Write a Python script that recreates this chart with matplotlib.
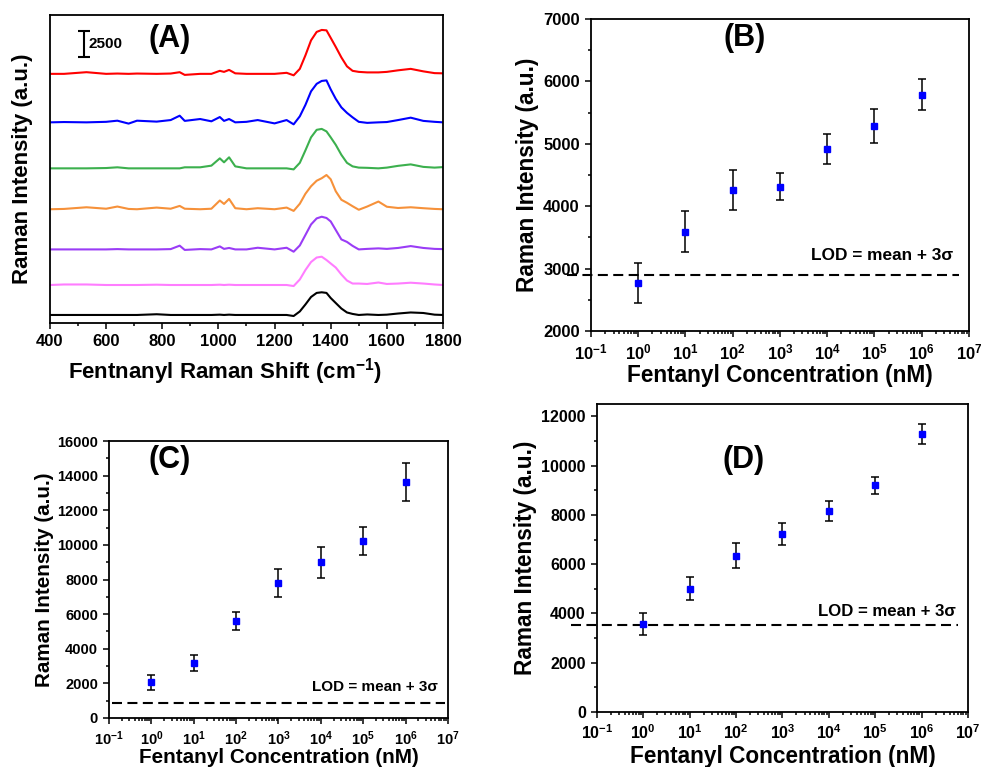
import numpy as np
import matplotlib
matplotlib.use("Agg")
import matplotlib.pyplot as plt
from matplotlib.ticker import MultipleLocator, LogLocator, FuncFormatter, NullFormatter

plt.rcParams['font.family'] = ['Liberation Sans', 'DejaVu Sans']
plt.rcParams['font.weight'] = 'bold'
plt.rcParams['axes.labelweight'] = 'bold'
plt.rcParams['mathtext.default'] = 'regular'

# =============================================================
# DATOS (A): espectros Raman, intensidad sobre su línea base
# =============================================================
shift = [400, 450, 530, 600, 640, 680, 710, 780, 830, 862, 880, 935, 975, 1005,
         1020, 1038, 1060, 1100, 1140, 1200, 1243, 1268, 1290, 1310, 1330, 1350,
         1368, 1385, 1400, 1418, 1438, 1458, 1478, 1500, 1530, 1570, 1600, 1640,
         1685, 1730, 1770, 1800]

spec_red = [0, 0, 160, 0, 30, 0, 30, 0, 30, 160, -100, 0, 0, 290, 190, 380, 50, 0, 0,
            0, 100, -140, 480, 1780, 3220, 4030, 4220, 4180, 3460, 2590, 1580, 720,
            290, 190, 140, 140, 190, 340, 480, 240, 70, 50]
spec_blue = [0, 30, 0, 50, 160, -120, 160, 70, 220, 640, 140, 320, 100, 510, 140, 320,
             0, 50, 220, -100, 220, -190, 580, 1680, 2980, 3700, 3980, 4030, 3170,
             2260, 1440, 910, 480, 50, -50, 0, 30, 220, 450, 140, 50, 0]
spec_green = [0, 0, 0, 30, 100, 0, 0, 0, 0, 0, 100, 100, 260, 960, 580, 1060, 190, 0,
              0, 0, 0, -100, 530, 1730, 2980, 3700, 3790, 3550, 2980, 2260, 1300, 530,
              190, 70, 50, 0, 70, 240, 380, 140, 70, 120]
spec_orange = [0, 30, 190, 50, 260, 30, 0, 160, 50, 320, 50, 0, 50, 840, 510, 990, 100,
               0, 100, 0, 160, -160, 530, 1490, 2210, 2740, 2980, 3290, 2880, 1730,
               910, 620, 290, -50, 260, 740, 240, 120, 190, 100, 30, 0]
spec_purple = [0, 0, 0, 0, 30, 0, 0, 0, 30, 360, -50, 30, 0, 290, 50, 140, 0, 0, 160, 0,
               160, -220, 380, 1390, 2400, 2980, 3140, 3020, 2690, 1870, 960, 720, 340,
               0, 50, 100, 50, 140, 320, 140, 50, 30]
spec_pink = [0, 50, 50, 0, 0, 0, 0, 30, 0, 0, 0, 0, 0, 30, 0, 30, 0, 0, 0, 0, 0, -100,
             530, 1440, 2210, 2640, 2720, 2400, 2070, 1680, 1010, 430, 140, 140, 100,
             240, 100, 140, 220, 140, 50, 0]
spec_black = [0, 0, 0, 0, 0, 0, 0, 70, 0, 0, 0, 0, 0, 30, 0, 30, 0, 0, 0, 0, 0, -100,
              340, 1010, 1730, 2120, 2180, 2120, 1630, 1150, 620, 240, 100, 0, 50, 0, 30,
              140, 240, 190, 30, 0]

spectra = [spec_red, spec_blue, spec_green, spec_orange, spec_purple, spec_pink, spec_black]
spec_offsets = [23940, 19280, 14860, 10930, 7070, 3650, 770]
spec_colors = ['#FF0000', '#0000FF', '#3CB04E', '#F6913A', '#9A3CF6', '#FF7DFF', '#000000']

# =============================================================
# DATOS (B, C, D): intensidad vs concentración
# =============================================================
conc = [1e0, 1e1, 1e2, 1e3, 1e4, 1e5, 1e6]

b_mean = [2770, 3595, 4255, 4310, 4915, 5285, 5790]
b_err = [327, 327, 318, 217, 236, 275, 249]
b_lod = 2894

c_mean = [2075, 3170, 5610, 7800, 8990, 10220, 13620]
c_err = [430, 450, 510, 800, 885, 790, 1085]
c_lod = 845

d_mean = [3586, 5007, 6346, 7226, 8146, 9202, 11299]
d_err = [447, 453, 520, 453, 412, 338, 406]
d_lod = 3545

fig = plt.figure(figsize=(9.82, 7.67), dpi=100)


def style_spines(ax):
    for s in ax.spines.values():
        s.set_linewidth(1.3)
    ax.tick_params(which='both', direction='out', width=1.1, top=False, right=False)
    ax.tick_params(which='major', length=4.5)
    ax.tick_params(which='minor', length=2.5)


def log_panel(rect, mean, err, lod, ylim, ystep, yminor, tag, tag_pos,
              lod_x, lod_text_x, lod_text_y, fs_tick, fs_label, fs_lod, label_xy):
    ax = fig.add_axes(rect)
    ax.set_xscale('log')
    ax.set_xlim(1e-1, 1e7)
    ax.set_ylim(*ylim)
    ax.errorbar(conc, mean, yerr=err, fmt='s', color='#0000FF', ms=4.5,
                ecolor='black', elinewidth=1.1, capsize=3, capthick=1.1, zorder=3)
    ln, = ax.plot(lod_x, [lod, lod], color='black', lw=1.5, clip_on=False)
    ln.set_dashes((4.8, 2.6))
    ax.text(lod_text_x, lod_text_y, 'LOD = mean + 3σ', ha='right', va='center',
            fontsize=fs_lod, fontweight='bold')
    ax.text(tag_pos[0], tag_pos[1], tag, transform=ax.transAxes, ha='center',
            va='center', fontsize=22, fontweight='bold')

    ax.xaxis.set_major_locator(LogLocator(base=10, numticks=20))
    ax.xaxis.set_minor_locator(LogLocator(base=10, subs=np.arange(2, 10), numticks=20))
    ax.xaxis.set_minor_formatter(NullFormatter())
    ax.xaxis.set_major_formatter(FuncFormatter(
        lambda v, p: r'$\mathregular{10^{%d}}$' % int(round(np.log10(v)))))
    ax.yaxis.set_major_locator(MultipleLocator(ystep))
    ax.yaxis.set_minor_locator(MultipleLocator(yminor))
    style_spines(ax)
    ax.tick_params(which='major', labelsize=fs_tick)

    ax.set_xlabel('Fentanyl Concentration (nM)', fontsize=fs_label, va='center')
    ax.set_ylabel('Raman Intensity (a.u.)', fontsize=fs_label, va='center')
    ax.xaxis.set_label_coords(0.5, label_xy[1])
    ax.yaxis.set_label_coords(label_xy[0], 0.5)
    return ax


# =============================================================
# PANEL (A)
# =============================================================
axA = fig.add_axes([0.0509, 0.5789, 0.4002, 0.4016])
for spec, off, col in zip(spectra, spec_offsets, spec_colors):
    axA.plot(shift, np.array(spec) + off, color=col, lw=1.5)
axA.set_xlim(400, 1800)
axA.set_ylim(0, 29600)
axA.set_yticks([])
axA.xaxis.set_major_locator(MultipleLocator(200))
axA.xaxis.set_minor_locator(MultipleLocator(100))
style_spines(axA)
axA.tick_params(which='major', labelsize=12)
axA.errorbar([521], [26850], yerr=[1250], color='black', lw=1.5, capsize=4, capthick=1.5)
axA.text(538, 26850, '2500', ha='left', va='center', fontsize=11, fontweight='bold')
axA.text(0.305, 0.922, '(A)', transform=axA.transAxes, ha='center', va='center',
         fontsize=22, fontweight='bold')
axA.set_xlabel('Fentnanyl Raman Shift (cm$^{-1}$)', fontsize=16, va='center')
axA.set_ylabel('Raman Intensity (a.u.)', fontsize=16, va='center')
axA.xaxis.set_label_coords(0.445, -0.159)
axA.yaxis.set_label_coords(-0.069, 0.5)

# =============================================================
# PANELES (B), (C), (D)
# =============================================================
log_panel([0.6018, 0.5684, 0.3849, 0.4068], b_mean, b_err, b_lod, (2000, 7000), 1000, 500,
          '(B)', (0.407, 0.94), [10 ** -1.5, 10 ** 6.79], 10 ** 6.67, 3205,
          12, 16.3, 12.4, (-0.169, -0.141))
log_panel([0.1110, 0.0639, 0.3452, 0.3611], c_mean, c_err, c_lod, (0, 16000), 2000, 1000,
          '(C)', (0.18, 0.93), [10 ** -0.94, 10 ** 6.92], 10 ** 6.77, 1767,
          10.5, 14.9, 11, (-0.189, -0.144))
log_panel([0.6079, 0.0717, 0.3778, 0.4016], d_mean, d_err, d_lod, (0, 12500), 2000, 1000,
          '(D)', (0.396, 0.818), [10 ** -1.55, 10 ** 6.79], 10 ** 6.74, 4060,
          11.5, 16.3, 12.1, (-0.193, -0.146))

fig.savefig('out.png', dpi=100)
